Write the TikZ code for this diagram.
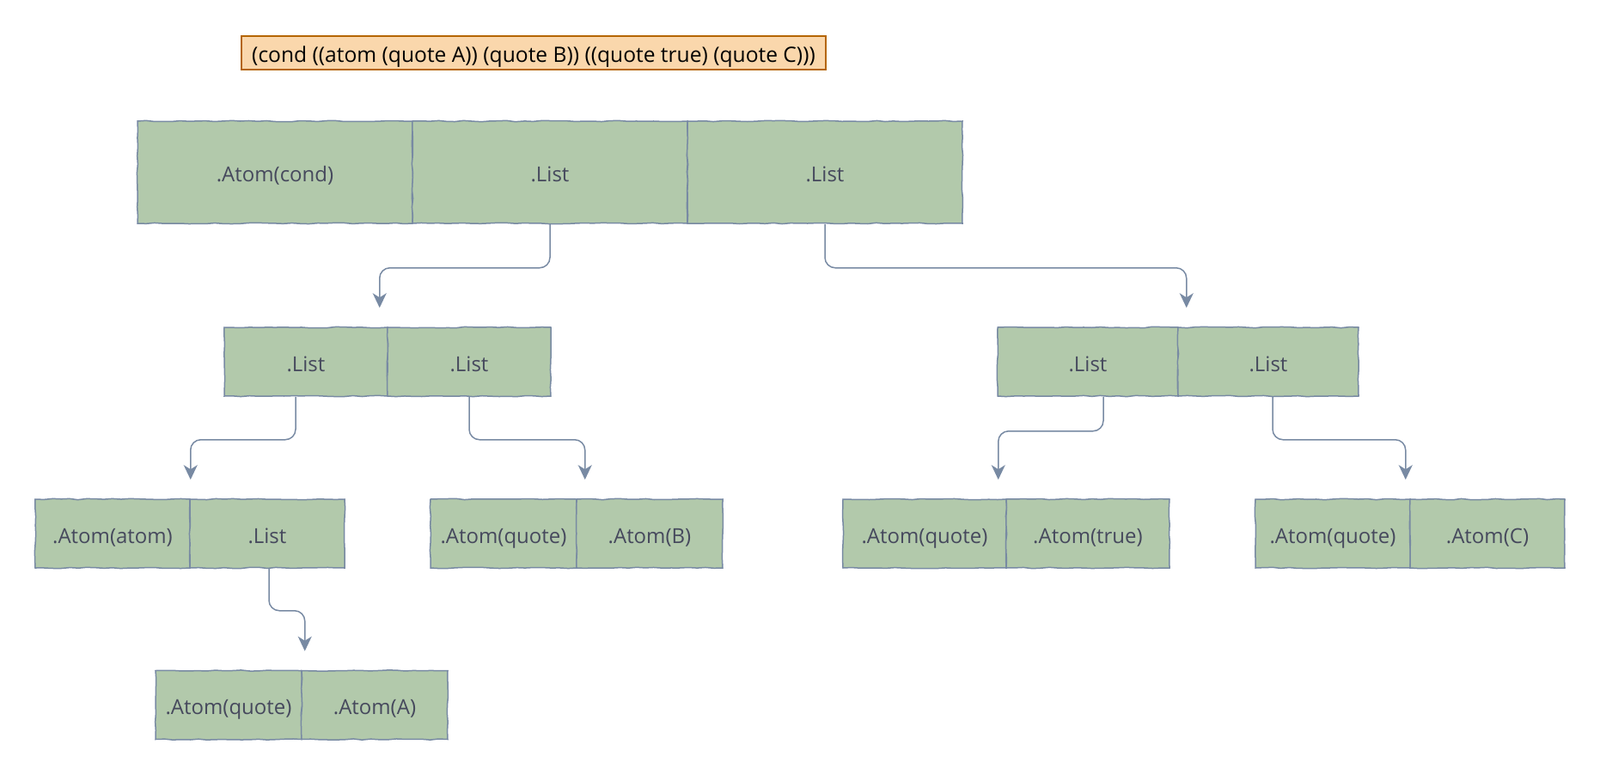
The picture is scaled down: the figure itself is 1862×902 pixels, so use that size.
\documentclass[tikz,border=0pt]{standalone}
\usepackage{fontspec}
\setmainfont{Open Sans}
\usepackage{tikz}
\usetikzlibrary{arrows.meta,calc,decorations.pathmorphing}
\definecolor{cellfill}{HTML}{B2C9AB}
\definecolor{celledge}{HTML}{788AA3}
\definecolor{celltext}{HTML}{46495D}
\definecolor{exprfill}{HTML}{FAD7AC}
\definecolor{expredge}{HTML}{B46504}
\tikzset{
  cell/.style={draw=celledge,fill=cellfill,text=celltext,line width=0.75bp,inner sep=0pt,
    minimum height=40bp,text height=11bp,text depth=0bp,font=\fontsize{12bp}{14bp}\selectfont,
    decorate,decoration={random steps,segment length=5bp,amplitude=0.35bp}},
  link/.style={draw=celledge,line width=0.75bp,rounded corners=6bp,shorten >=11bp,
    -{Stealth[length=8.5bp,width=8bp,inset=2.5bp]}}
}

\begin{document}
\begin{tikzpicture}[scale=0.5]
\useasboundingbox (0bp,0bp) rectangle (1862bp,-902bp);
\node (expr) at (621bp,-61.5bp)[draw=expredge,fill=exprfill,line width=0.75bp,minimum width=340bp,minimum height=19.5bp,inner sep=0pt,text height=11bp,text depth=0bp,font=\fontsize{12.3bp}{14bp}\selectfont] {(cond ((atom (quote A)) (quote B)) ((quote true) (quote C)))};
% top level
\node (t1) at (320bp,-200.5bp)[cell,minimum width=160bp,minimum height=59.5bp] {.Atom(cond)};
\node (t2) at (640bp,-200.5bp)[cell,minimum width=160bp,minimum height=59.5bp] {.List};
\node (t3) at (960bp,-200.5bp)[cell,minimum width=160bp,minimum height=59.5bp] {.List};
% second level
\node (a1) at (356bp,-421bp)[cell,minimum width=95bp] {.List};
\node (a2) at (546bp,-421bp)[cell,minimum width=95bp] {.List};
\node (b1) at (1266bp,-421bp)[cell,minimum width=105bp] {.List};
\node (b2) at (1476bp,-421bp)[cell,minimum width=105bp] {.List};
% third level
\node (c1) at (131bp,-621bp)[cell,minimum width=90bp] {.Atom(atom)};
\node (c2) at (311bp,-621bp)[cell,minimum width=90bp] {.List};
\node (d1) at (586bp,-621bp)[cell,minimum width=85bp] {.Atom(quote)};
\node (d2) at (756bp,-621bp)[cell,minimum width=85bp] {.Atom(B)};
\node (e1) at (1076bp,-621bp)[cell,minimum width=95bp] {.Atom(quote)};
\node (e2) at (1266bp,-621bp)[cell,minimum width=95bp] {.Atom(true)};
\node (f1) at (1551bp,-621bp)[cell,minimum width=90bp] {.Atom(quote)};
\node (f2) at (1731bp,-621bp)[cell,minimum width=90bp] {.Atom(C)};
% fourth level
\node (g1) at (266bp,-820.5bp)[cell,minimum width=85bp] {.Atom(quote)};
\node (g2) at (436bp,-820.5bp)[cell,minimum width=85bp] {.Atom(A)};
% links
\draw [link] (t2.south) -- ++(0,-51bp) -| ($(a1.north east)+(-10bp,0)$);
\draw [link] (t3.south) -- ++(0,-51bp) -| ($(b1.north east)+(9bp,0)$);
\draw [link] ($(a1.south)+(-12bp,0)$) -- ++(0,-50bp) -| (c1.north east);
\draw [link] (a2.south) -- ++(0,-50bp) -| ($(d1.north east)+(9bp,0)$);
\draw [link] ($(b1.south)+(18bp,0)$) -- ++(0,-40bp) -| ($(e1.north east)+(-10bp,0)$);
\draw [link] ($(b2.south)+(5bp,0)$) -- ++(0,-50bp) -| ($(f1.north east)+(-6bp,0)$);
\draw [link] ($(c2.south)+(2bp,0)$) -- ++(0,-49bp) -| ($(g1.north east)+(3bp,0)$);
\end{tikzpicture}
\end{document}
